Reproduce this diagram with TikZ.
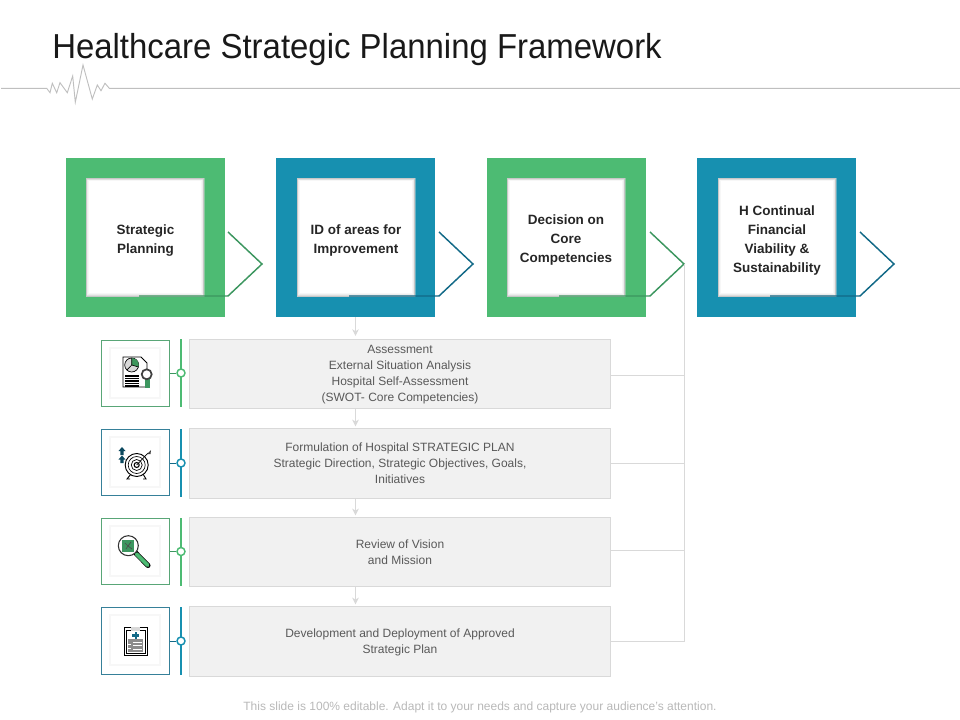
\documentclass[tikz,border=0pt]{standalone}
\usepackage{fontspec}
\setmainfont{Liberation Sans}
\newfontfamily\titlefont[FakeStretch=0.95]{Liberation Sans}
\usetikzlibrary{arrows.meta}
\definecolor{mygreen}{RGB}{77,187,115}
\definecolor{myblue}{RGB}{23,144,176}
\definecolor{darkgreen}{RGB}{60,150,95}
\definecolor{darkblue}{RGB}{18,105,135}
\definecolor{rowgray}{RGB}{241,241,241}
\definecolor{rowline}{RGB}{217,217,217}
\definecolor{rowtext}{RGB}{89,89,89}
\definecolor{labeltext}{RGB}{38,38,38}
\tikzset{
  outerbox/.style={minimum size=119.25pt,inner sep=0pt},
  innerbox/.style={fill=white,minimum size=88.5pt,inner sep=0pt,
    path picture={
      \draw[black!3,line width=4.5pt](path picture bounding box.south west) rectangle (path picture bounding box.north east);
      \draw[black!7,line width=3pt](path picture bounding box.south west) rectangle (path picture bounding box.north east);
      \draw[black!13,line width=1.8pt](path picture bounding box.south west) rectangle (path picture bounding box.north east);
      \draw[black!22,line width=0.8pt](path picture bounding box.south west) rectangle (path picture bounding box.north east);
    }},
  cardlabel/.style={inner sep=0pt,align=center,text=labeltext,font=\fontsize{10.1}{14.25}\selectfont\bfseries},
  rowbox/.style={fill=rowgray,draw=rowline,line width=0.6pt,minimum width=316pt,inner sep=0pt},
  rowlabel/.style={inner sep=0pt,align=center,text=rowtext,font=\fontsize{9}{12}\selectfont},
  iconframe/.style={draw,line width=0.6pt,fill=white,minimum width=51pt,minimum height=50pt,inner sep=0pt},
  iconcard/.style={fill=white,draw=black!3,line width=0.8pt,minimum size=37.5pt,inner sep=0pt},
  bar/.style={line width=2pt},
  dot/.style={circle,draw,fill=white,line width=1.1pt,minimum size=6pt,inner sep=0pt},
  flowarrow/.style={-{Stealth[length=5pt,width=5pt,inset=1.5pt]},draw=rowline,line width=0.7pt},
  joinline/.style={draw=rowline,line width=0.7pt},
  chevron/.style={line width=1.1pt,line join=miter},
  icon/.style={draw=black,line width=0.5pt}
}
\begin{document}
\begin{tikzpicture}[x=0.75pt,y=-0.75pt]
\useasboundingbox (0,0) rectangle (960,720);
% header
\node[anchor=west,inner sep=0pt,text=black!90,font=\fontsize{26}{30}\selectfont\titlefont] (title) at (52,50){Healthcare Strategic Planning Framework};
\draw[black!25,line width=0.7pt](1,88.3)--(46.7,88.3)--(50,92.7)--(52.3,83.3)--(56.7,92.7)--(60,82.7)--(67.3,92.7)--(72.7,76)--(75.3,102.3)--(83,65)--(92.3,99)--(97.3,85)--(101,90.7)--(105,83.3)--(109.3,88.3)--(960,88.3);
% top squares
\node[outerbox,fill=mygreen] (card1) at (145.5,237.5){};
\node[outerbox,fill=myblue] (card2) at (355.5,237.5){};
\node[outerbox,fill=mygreen] (card3) at (566.5,237.5){};
\node[outerbox,fill=myblue] (card4) at (776.5,237.5){};
\node[innerbox] (inner1) at (145,237.5){};
\node[innerbox] (inner2) at (356,237.5){};
\node[innerbox] (inner3) at (566,237.5){};
\node[innerbox] (inner4) at (777,237.5){};
\node[cardlabel] (label1) at (145.5,241){Strategic\\Planning};
\node[cardlabel] (label2) at (356,241){ID of areas for\\Improvement};
\node[cardlabel] (label3) at (566,240.5){Decision on\\Core\\Competencies};
\node[cardlabel] (label4) at (777,240.5){H Continual\\Financial\\Viability \&\\Sustainability};
% chevrons
\coordinate (tip1) at (262,264);
\coordinate (tip2) at (473,264);
\coordinate (tip3) at (684,264);
\coordinate (tip4) at (894,264);
\draw[chevron,darkgreen](139,296)--(228,296)--(tip1)--(228,232);
\draw[chevron,darkblue](349,296)--(439,296)--(tip2)--(439,232);
\draw[chevron,darkgreen](559,296)--(650,296)--(tip3)--(650,232);
\draw[chevron,darkblue](770,296)--(860,296)--(tip4)--(860,232);
% rows
\node[rowbox,minimum height=51.75pt] (row1) at (400,373.5){};
\node[rowbox,minimum height=52.5pt] (row2) at (400,463){};
\node[rowbox,minimum height=51.75pt] (row3) at (400,551.5){};
\node[rowbox,minimum height=52.5pt] (row4) at (400,641){};
\node[rowlabel] (text1) at (400,375){Assessment\\External Situation Analysis\\Hospital Self-Assessment\\(SWOT- Core Competencies)};
\node[rowlabel] (text2) at (400,463){Formulation of Hospital STRATEGIC PLAN\\Strategic Direction, Strategic Objectives, Goals,\\Initiatives};
\node[rowlabel] (text3) at (400,552.5){Review of Vision\\and Mission};
\node[rowlabel] (text4) at (400,642){Development and Deployment of Approved\\Strategic Plan};
% arrows between the rows
\draw[flowarrow,shorten >=2pt](card2.south)--(card2.south |- row1.north);
\draw[flowarrow,shorten >=1pt](card2.south |- row1.south)--(card2.south |- row2.north);
\draw[flowarrow,shorten >=1pt](card2.south |- row2.south)--(card2.south |- row3.north);
\draw[flowarrow,shorten >=1pt](card2.south |- row3.south)--(card2.south |- row4.north);
% return line
\coordinate (out1) at (611,375);
\coordinate (out2) at (611,463);
\coordinate (out3) at (611,550);
\coordinate (out4) at (611,641);
\draw[joinline](out1)-|(tip3);
\draw[joinline](out2)-|(tip3);
\draw[joinline](out3)-|(tip3);
\draw[joinline](out4)-|(tip3);
% icon frames
\node[iconframe,draw=darkgreen!85] (frame1) at (135.5,373.5){};
\node[iconframe,draw=darkblue!85] (frame2) at (135.5,462.5){};
\node[iconframe,draw=darkgreen!85] (frame3) at (135.5,551.5){};
\node[iconframe,draw=darkblue!85] (frame4) at (135.5,641){};
\node[iconcard] (icard1) at (135,373){};
\node[iconcard] (icard2) at (135,462){};
\node[iconcard] (icard3) at (135,551){};
\node[iconcard] (icard4) at (135,640){};
% bars and dots
\coordinate (bar1a) at (181,339);
\coordinate (bar1b) at (181,407);
\coordinate (bar2a) at (181,429);
\coordinate (bar2b) at (181,497);
\coordinate (bar3a) at (181,518);
\coordinate (bar3b) at (181,586);
\coordinate (bar4a) at (181,607);
\coordinate (bar4b) at (181,675);
\draw[bar,mygreen](bar1a)--(bar1b);
\draw[bar,myblue](bar2a)--(bar2b);
\draw[bar,mygreen](bar3a)--(bar3b);
\draw[bar,myblue](bar4a)--(bar4b);
\node[dot,draw=mygreen] (dot1) at (181,373){};
\node[dot,draw=myblue] (dot2) at (181,463){};
\node[dot,draw=mygreen] (dot3) at (181,551.5){};
\node[dot,draw=myblue] (dot4) at (181,641){};
\draw[darkgreen,line width=0.7pt](frame1.east |- dot1)--(dot1);
\draw[darkblue,line width=0.7pt](frame2.east |- dot2)--(dot2);
\draw[darkgreen,line width=0.7pt](frame3.east |- dot3)--(dot3);
\draw[darkblue,line width=0.7pt](frame4.east |- dot4)--(dot4);
% icon 1, report
\draw[icon,fill=white,line width=0.7pt](123,357)--(141,357)--(147,363)--(147,387)--(123,387)--cycle;
\draw[icon,fill=black!15](131.7,365) circle (7);
\fill[mygreen!80!black](131.7,365)--(131.7,358)arc(-90:15:7)--cycle;
\draw[icon](131.7,365)--(131.7,358) (131.7,365)--(138.5,367) (131.7,365)--(127,370);
\draw[icon,line width=0.8pt](125,376)--(139,376) (125,378.5)--(139,378.5) (125,381)--(139,381) (125,383.5)--(139,383.5) (125,386)--(139,386);
\fill[darkgreen](144.5,379)rectangle(149.5,388);
\draw[black!75,fill=white,line width=1.3pt](146.7,374.3) circle (5);
% icon 2, target
\draw[icon,line width=0.7pt](131,474)--(127,479)--(130,479) (143,474)--(146,479)--(143,479);
\draw[icon,fill=white,line width=0.7pt](136.7,465) circle (11.5);
\draw[icon](136.7,465) circle (8.5);
\draw[icon](136.7,465) circle (5.5);
\draw[icon,line width=0.8pt](136.7,465) circle (2.5);
\draw[icon](136.7,465)--(148,453);
\fill[black!75](147,454)--(151,450)--(150.5,454)--cycle;
\fill[darkblue!70!black](122,447)--(125.5,451)--(123.7,451)--(123.7,455)--(120.3,455)--(120.3,451)--(118.5,451)--cycle;
\fill[darkblue!70!black](122,455.5)--(125.5,459.5)--(123.7,459.5)--(123.7,463)--(120.3,463)--(120.3,459.5)--(118.5,459.5)--cycle;
% icon 3, magnifier
\draw[black,line width=3.8pt,line cap=round](135.7,553)--(148,565.5);
\draw[mygreen,line width=2.8pt,line cap=round](136.5,554)--(147.7,565.2);
\draw[black!80,fill=white,line width=0.8pt](128.3,545.7) circle (10);
\fill[darkgreen](122.3,539.5)rectangle(134.3,551.5);
\draw[black!70,line width=0.5pt](125,543)--(128,546)--(126,549) (131,542)--(128,546)--(132,549);
% icon 4, clipboard
\draw[icon,fill=white,line width=0.7pt](124.3,627.3)rectangle(147,655.7);
\draw[icon](126.5,630)rectangle(145,653.5);
\fill[black!15](131,627.3)rectangle(140,630.5);
\fill[darkblue](134.5,632)rectangle(137,639);
\fill[darkblue](132.3,634.2)rectangle(139.2,636.7);
\fill[black!45](128.3,639.3)rectangle(143.3,651.7);
\draw[white,line width=0.6pt](133,642)--(142,642) (133,645.5)--(142,645.5) (133,649)--(142,649) (128.3,644)--(131,644) (128.3,648)--(131,648);
% footer
\node[inner sep=0pt,text=black!28,font=\fontsize{9}{11}\selectfont] (note) at (480,707){This slide is 100\% editable. Adapt it to your needs and capture your audience's attention.};
\end{tikzpicture}
\end{document}
